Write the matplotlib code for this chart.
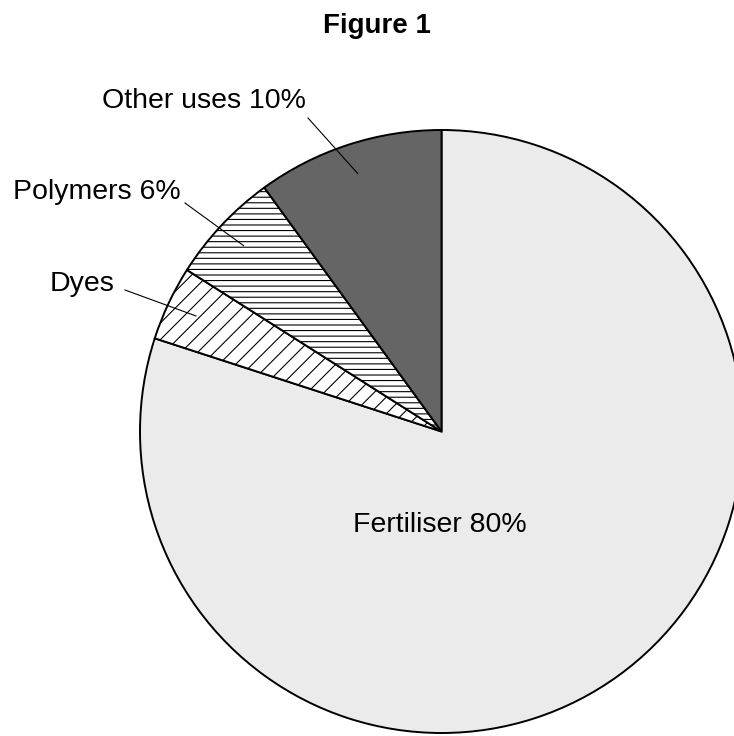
import numpy as np
import matplotlib.pyplot as plt

plt.rcParams["font.family"] = ["Liberation Sans", "DejaVu Sans"]
plt.rcParams["hatch.linewidth"] = 0.8

# slices, clockwise from the top
labels = ["Fertiliser 80%", "Dyes", "Polymers 6%", "Other uses 10%"]
values = [80, 4, 6, 10]
colors = ["#ebebeb", "white", "white", "#656565"]
hatches = [None, "//", "---", None]

W, H = 734, 736
CX, CY, R = 441.5, 431.5, 301.5


def px(x, y):
    # pixel position in the picture -> data coords of the unit pie
    return (x - CX) / R, (CY - y) / R


fig = plt.figure(figsize=(W / 100, H / 100), dpi=100)
ax = fig.add_axes([0, 0, 1, 1])
wedges, _ = ax.pie(values, startangle=90, counterclock=False, colors=colors,
                   wedgeprops=dict(edgecolor="black", linewidth=1.4))
for w, h in zip(wedges, hatches):
    if h:
        w.set_hatch(h)

ax.set_xlim(px(0, 0)[0], px(W, 0)[0])
ax.set_ylim(px(0, H)[1], px(0, 0)[1])
ax.set_aspect("auto")
ax.axis("off")

# inside label
ax.text(*px(440, 525), labels[0], ha="center", va="center", fontsize=20.5)

# outside labels with leader lines (text pos, line start)
outside = {
    1: ((82, 284), (125, 290)),
    2: ((97, 192), (185, 203)),
    3: ((204, 101), (308, 118)),
}
for i, (tpos, lstart) in outside.items():
    w = wedges[i]
    mid = np.deg2rad((w.theta1 + w.theta2) / 2)
    end = (0.9 * np.cos(mid), 0.9 * np.sin(mid))
    s = px(*lstart)
    ax.plot([s[0], end[0]], [s[1], end[1]], color="black", lw=0.8)
    ax.text(*px(*tpos), labels[i], ha="center", va="center", fontsize=20.5)

fig.text(377 / W, 1 - 26 / H, "Figure 1", ha="center", va="center",
         fontsize=20, fontweight="bold")

fig.savefig("out.png", dpi=100)
